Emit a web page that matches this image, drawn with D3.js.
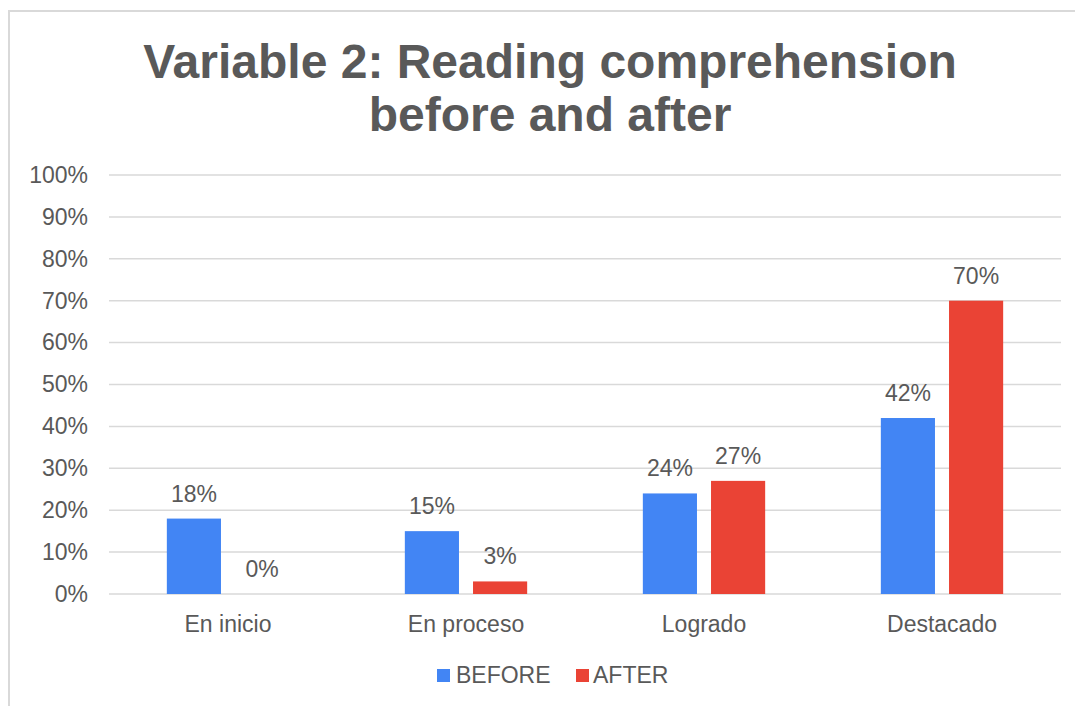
<!DOCTYPE html>
<html>
<head>
<meta charset="utf-8">
<script src="https://cdn.jsdelivr.net/npm/d3@7"></script>
<style>
  html, body { margin: 0; padding: 0; background: #fff; }
  svg { display: block; font-family: "Liberation Sans", Arial, sans-serif; }
</style>
</head>
<body>
<svg id="chart" width="1075" height="706"></svg>
<script>
// Chart data
const categories = ["En inicio", "En proceso", "Logrado", "Destacado"];
const seriesNames = ["BEFORE", "AFTER"];
const beforeValues = [18, 15, 24, 42];
const afterValues = [0, 3, 27, 70];
const tickValues = [0, 10, 20, 30, 40, 50, 60, 70, 80, 90, 100];
const titleLines = ["Variable 2: Reading comprehension", "before and after"];

const colors = { BEFORE: "#4285F4", AFTER: "#EA4335" };
const textColor = "#595959";
const gridColor = "#d9d9d9";
const labelSize = 23;

const svg = d3.select("#chart");

// Outer chart frame
svg.append("rect")
  .attr("x", 9).attr("y", 11)
  .attr("width", 1100).attr("height", 720)
  .attr("fill", "#fff")
  .attr("stroke", gridColor)
  .attr("stroke-width", 2);

// Title
const title = svg.append("text")
  .attr("text-anchor", "middle")
  .attr("fill", textColor)
  .attr("font-weight", "bold")
  .attr("font-size", 48);
titleLines.forEach((line, i) => {
  title.append("tspan")
    .attr("x", 550)
    .attr("y", 78 + i * 53)
    .text(line);
});

// Plot area
const plot = { left: 109, right: 1061, top: 175, bottom: 594 };

const x0 = d3.scaleBand()
  .domain(categories)
  .range([plot.left, plot.right])
  .paddingInner(0.486)
  .paddingOuter(0.243);

const x1 = d3.scaleBand()
  .domain(seriesNames)
  .range([0, x0.bandwidth()])
  .paddingInner(0.206);

const y = d3.scaleLinear()
  .domain([0, 100])
  .range([plot.bottom, plot.top]);

// Gridlines
svg.append("g")
  .selectAll("line")
  .data(tickValues)
  .join("line")
  .attr("x1", plot.left)
  .attr("x2", plot.right)
  .attr("y1", d => y(d))
  .attr("y2", d => y(d))
  .attr("stroke", gridColor)
  .attr("stroke-width", 1.5);

// Y axis labels
const yAxis = d3.axisLeft(y)
  .tickValues(tickValues)
  .tickFormat(d => d + "%")
  .tickSize(0)
  .tickPadding(0);
const yG = svg.append("g")
  .attr("transform", `translate(88,0)`)
  .call(yAxis);
yG.select(".domain").remove();
yG.selectAll("text")
  .attr("fill", textColor)
  .attr("font-size", labelSize)
  .attr("font-family", "Liberation Sans, Arial, sans-serif");

// X axis labels
const xAxis = d3.axisBottom(x0).tickSize(0).tickPadding(0);
const xG = svg.append("g")
  .attr("transform", `translate(0,${plot.bottom})`)
  .call(xAxis);
xG.select(".domain").remove();
xG.selectAll("text")
  .attr("dy", null)
  .attr("y", 38)
  .attr("fill", textColor)
  .attr("font-size", labelSize)
  .attr("font-family", "Liberation Sans, Arial, sans-serif");

// Bars
const rows = categories.map((c, i) => ({
  category: c,
  values: [
    { series: "BEFORE", value: beforeValues[i] },
    { series: "AFTER", value: afterValues[i] }
  ]
}));

const groups = svg.append("g")
  .selectAll("g")
  .data(rows)
  .join("g")
  .attr("transform", d => `translate(${x0(d.category)},0)`);

groups.selectAll("rect")
  .data(d => d.values)
  .join("rect")
  .attr("x", d => x1(d.series))
  .attr("width", x1.bandwidth())
  .attr("y", d => y(d.value))
  .attr("height", d => y(0) - y(d.value))
  .attr("fill", d => colors[d.series]);

// Value labels
groups.selectAll("text")
  .data(d => d.values)
  .join("text")
  .attr("x", d => x1(d.series) + x1.bandwidth() / 2)
  .attr("y", d => y(d.value) - 17)
  .attr("text-anchor", "middle")
  .attr("fill", textColor)
  .attr("font-size", labelSize)
  .text(d => d.value + "%");

// Legend
const legendItems = [
  { name: "BEFORE", sx: 437, tx: 456 },
  { name: "AFTER", sx: 576, tx: 593 }
];
const legend = svg.append("g");
legendItems.forEach(item => {
  legend.append("rect")
    .attr("x", item.sx).attr("y", 669)
    .attr("width", 13).attr("height", 13)
    .attr("fill", colors[item.name]);
  legend.append("text")
    .attr("x", item.tx).attr("y", 683)
    .attr("fill", textColor)
    .attr("font-size", labelSize)
    .text(item.name);
});
</script>
</body>
</html>
